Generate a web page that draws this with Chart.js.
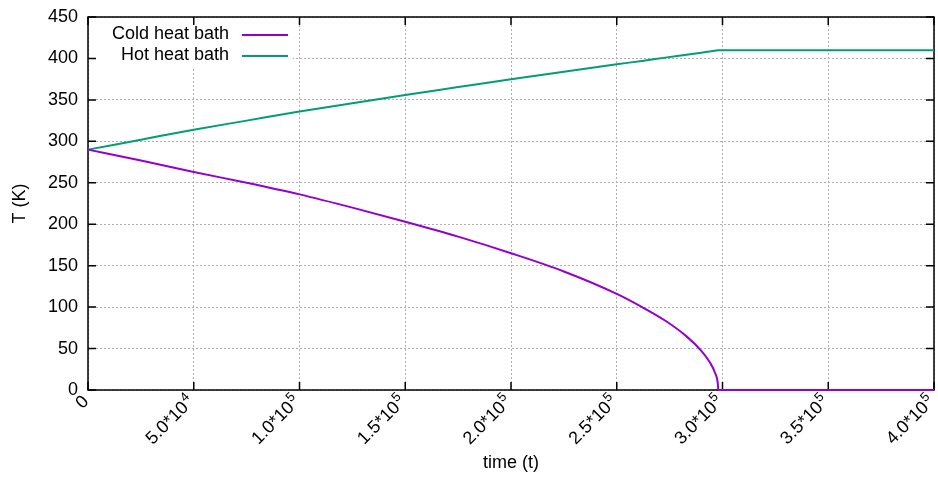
<!DOCTYPE html>
<html>
<head>
<meta charset="utf-8">
<script src="https://cdn.jsdelivr.net/npm/chart.js@4/dist/chart.umd.min.js"></script>
<style>
  html, body { margin: 0; padding: 0; background: #fff; }
  #wrap { width: 938px; height: 479px; }
</style>
</head>
<body>
<div id="wrap"><canvas id="chart"></canvas></div>
<script>
// time samples
const times = [0, 25000, 50000, 75000, 100000, 125000, 150000, 175000, 200000, 225000,
               250000, 262000, 273000, 283000, 290000, 294000, 296500, 297800, 298000, 400000];
const coldBath = [290, 277, 263, 250, 236, 220, 203, 185, 165, 143,
                  116, 100, 83.5, 64.7, 47.2, 33.4, 20.5, 7.5, 0, 0];
const hotBath = [290, 302, 314, 325, 336, 346, 356, 365.5, 375, 384,
                 393, 397, 401, 404.5, 407, 408.5, 409.4, 409.9, 410, 410];
const seriesNames = ['Cold heat bath', 'Hot heat bath'];
const seriesColors = ['#9400d3', '#009e73'];

const FONT = 'Liberation Sans, Arial, Helvetica, sans-serif';

// split a tick value into mantissa text and exponent, e.g. "5.0*10" + "4"
function sciParts(v) {
    if (v === 0) return ['0', ''];
    const e = Math.floor(Math.log10(v));
    const m = v / Math.pow(10, e);
    return [m.toFixed(1) + '*10', String(e)];
}

function toPoints(vals) {
    return times.map((t, i) => ({ x: t, y: vals[i] }));
}

// gnuplot-like frame, inward ticks, rotated x labels and key
const framePlugin = {
    id: 'frame',
    beforeDatasetsDraw(chart) {
        const { ctx, chartArea: a, scales: { x, y } } = chart;
        ctx.save();
        // key background
        ctx.fillStyle = '#fff';
        ctx.fillRect(a.left + 1, a.top + 1, 204, 50);

        ctx.strokeStyle = '#000';
        ctx.lineWidth = 1.5;
        ctx.strokeRect(a.left, a.top, a.right - a.left, a.bottom - a.top);

        ctx.beginPath();
        x.ticks.forEach(t => {
            const px = x.getPixelForValue(t.value);
            ctx.moveTo(px, a.bottom); ctx.lineTo(px, a.bottom - 8);
            ctx.moveTo(px, a.top); ctx.lineTo(px, a.top + 8);
        });
        y.ticks.forEach(t => {
            const py = y.getPixelForValue(t.value);
            ctx.moveTo(a.left, py); ctx.lineTo(a.left + 8, py);
            ctx.moveTo(a.right, py); ctx.lineTo(a.right - 8, py);
        });
        ctx.stroke();

        // x tick labels, rotated 45 degrees, right end at the tick
        ctx.fillStyle = '#000';
        ctx.textAlign = 'right';
        ctx.textBaseline = 'middle';
        x.ticks.forEach(t => {
            const [base, exp] = sciParts(t.value);
            const px = x.getPixelForValue(t.value);
            ctx.save();
            ctx.translate(px - 2, a.bottom + 9);
            ctx.rotate(-Math.PI / 4);
            let ew = 0;
            if (exp) {
                ctx.font = '13px ' + FONT;
                ew = ctx.measureText(exp).width + 1;
                ctx.fillText(exp, 0, -6);
            }
            ctx.font = '18px ' + FONT;
            ctx.fillText(base, -ew, 0);
            ctx.restore();
        });

        // key entries: text then sample line
        ctx.font = '18px ' + FONT;
        ctx.textAlign = 'right';
        ctx.textBaseline = 'middle';
        chart.data.datasets.forEach((ds, i) => {
            const ly = a.top + 17 + i * 21;
            ctx.fillStyle = '#000';
            ctx.fillText(ds.label, a.left + 141, ly);
            ctx.strokeStyle = ds.borderColor;
            ctx.lineWidth = 2;
            ctx.beginPath();
            ctx.moveTo(a.left + 154, ly + 1);
            ctx.lineTo(a.left + 200, ly + 1);
            ctx.stroke();
        });
        ctx.restore();
    }
};

const ctx = document.getElementById('chart').getContext('2d');
new Chart(ctx, {
    type: 'line',
    data: {
        datasets: [
            {
                label: seriesNames[0],
                data: toPoints(coldBath),
                borderColor: seriesColors[0],
                borderWidth: 2,
                pointRadius: 0,
                fill: false,
                cubicInterpolationMode: 'monotone',
                clip: false
            },
            {
                label: seriesNames[1],
                data: toPoints(hotBath),
                borderColor: seriesColors[1],
                borderWidth: 2,
                pointRadius: 0,
                fill: false,
                cubicInterpolationMode: 'monotone',
                clip: false
            }
        ]
    },
    options: {
        responsive: true,
        maintainAspectRatio: false,
        animation: false,
        layout: { padding: { left: 0, right: 4, top: 17, bottom: 0 } },
        plugins: {
            legend: { display: false },
            tooltip: { enabled: false }
        },
        scales: {
            x: {
                type: 'linear',
                min: 0,
                max: 400000,
                afterFit: s => {
                    s.height = 89;
                    s.paddingLeft = 0;
                    s.paddingRight = 0;
                },
                grid: { color: '#b0b0b0', lineWidth: 1, drawTicks: false },
                border: { display: false, dash: [2, 2] },
                ticks: {
                    stepSize: 50000,
                    autoSkip: false,
                    display: false
                },
                title: {
                    display: true,
                    text: 'time (t)',
                    color: '#000',
                    font: { family: FONT, size: 18 },
                    padding: { top: 0, bottom: 5 }
                }
            },
            y: {
                min: 0,
                max: 450,
                afterFit: s => {
                    s.width = 88;
                    s.paddingTop = 0;
                    s.paddingBottom = 0;
                },
                grid: { color: '#b0b0b0', lineWidth: 1, drawTicks: false },
                border: { display: false, dash: [2, 2] },
                ticks: {
                    stepSize: 50,
                    padding: 10,
                    color: '#000',
                    font: { family: FONT, size: 18 }
                },
                title: {
                    display: true,
                    text: 'T (K)',
                    color: '#000',
                    font: { family: FONT, size: 18 },
                    padding: { top: 9, bottom: 0 }
                }
            }
        }
    },
    plugins: [framePlugin]
});
</script>
</body>
</html>
